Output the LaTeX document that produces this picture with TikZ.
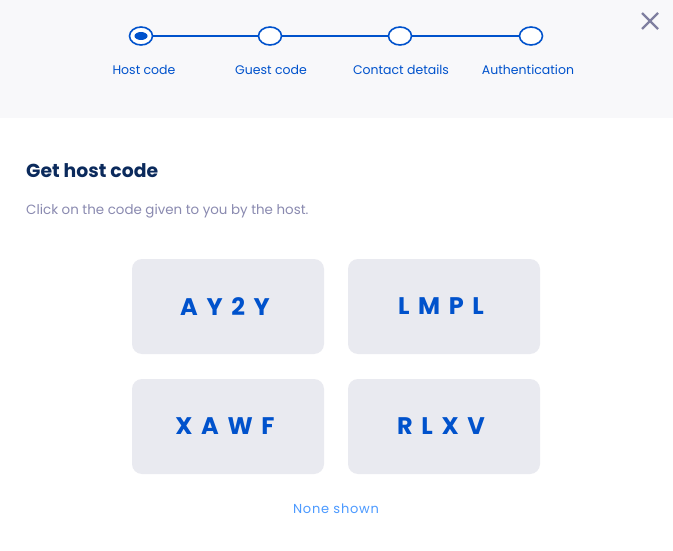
\documentclass[tikz,border=0pt]{standalone}
\usepackage{fontspec}
\setmainfont{Poppins}
\usetikzlibrary{shapes.geometric,calc}
\definecolor{band}{HTML}{F8F8FA}
\definecolor{blu}{HTML}{0052CC}
\definecolor{navy}{HTML}{0B2A5C}
\definecolor{subtle}{HTML}{8A8AB0}
\definecolor{xgray}{HTML}{7F7FA0}
\definecolor{boxfill}{HTML}{E9EAF0}
\definecolor{light}{HTML}{4C9AFF}
\newcommand{\codetext}[1]{#1\kern6pt}
\tikzset{
  stepdot/.style={draw=blu, line width=1.6pt, ellipse, minimum width=23pt, minimum height=18pt, inner sep=0pt, fill=white},
  steplabel/.style={text=blu, font=\fontsize{12.5}{15}\selectfont, anchor=center},
  codebox/.style={fill=boxfill, rounded corners=10pt, minimum width=192pt, minimum height=95pt, inner sep=0pt,
     text=blu, font=\fontsize{24}{28}\selectfont\bfseries\addfontfeatures{LetterSpace=36}},
}
\begin{document}
\begin{tikzpicture}[x=1pt,y=-1pt]
\useasboundingbox (0,0) rectangle (673,551);
\fill[white] (0,0) rectangle (673,551);
\fill[band] (0,0) rectangle (673,118);
% steps
\node[stepdot] (s1) at (141,36) {};
\node[stepdot] (s2) at (270,36) {};
\node[stepdot] (s3) at (400,36) {};
\node[stepdot] (s4) at (531,36) {};
\draw[blu, line width=1.6pt] (s1) -- (s2);
\draw[blu, line width=1.6pt] (s2) -- (s3);
\draw[blu, line width=1.6pt] (s3) -- (s4);
\node[fill=blu, ellipse, minimum width=13pt, minimum height=8pt, inner sep=0pt] (s1in) at (s1.center) {};
\node[steplabel] (l1) at (144,70) {Host code};
\node[steplabel] (l2) at (271,70) {Guest code};
\node[steplabel] (l3) at (401,70) {Contact details};
\node[steplabel] (l4) at (528,70) {Authentication};
% close
\coordinate (xc) at (650,21);
\draw[xgray, line width=2.2pt] ($(xc)+(-8,-8)$) -- ($(xc)+(8,8)$);
\draw[xgray, line width=2.2pt] ($(xc)+(-8,8)$) -- ($(xc)+(8,-8)$);
% heading
\node[anchor=west, text=navy, font=\fontsize{18.8}{22}\selectfont\bfseries, inner sep=0pt] (title) at (26,171) {Get host code};
\node[anchor=west, text=subtle, font=\fontsize{13.4}{16}\selectfont, inner sep=0pt] (sub) at (26,211) {Click on the code given to you by the host.};
% codes
\node[codebox] (c1) at (228,306.5) {\codetext{AY2Y}};
\node[codebox] (c2) at (444,306.5) {\codetext{LMPL}};
\node[codebox] (c3) at (228,426.5) {\codetext{XAWF}};
\node[codebox] (c4) at (444,426.5) {\codetext{RLXV}};
\node[text=light, font=\fontsize{13}{15}\selectfont\addfontfeatures{LetterSpace=6}] (none) at (336,509) {None shown};
\end{tikzpicture}
\end{document}
